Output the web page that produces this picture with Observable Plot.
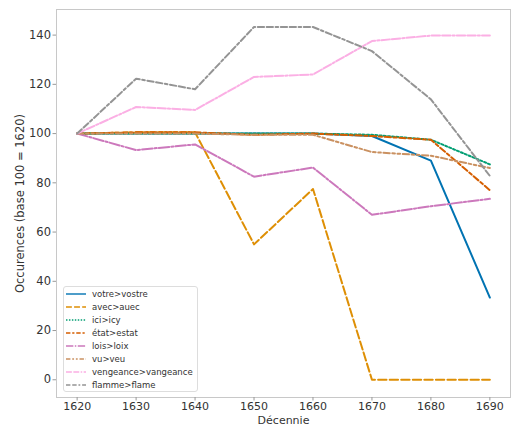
<!DOCTYPE html>
<html><head><meta charset="utf-8">
<script src="https://cdn.jsdelivr.net/npm/d3@7"></script>
<script src="https://cdn.jsdelivr.net/npm/@observablehq/plot@0.6"></script>
<style>
body{margin:0;background:#fff;font-family:"DejaVu Sans",sans-serif}
#wrap{position:relative;width:512px;height:425px}
#legend{position:absolute;left:63px;top:286px;width:135px;height:106px;border:1px solid #ddd;border-radius:3px;background:rgba(255,255,255,0.85);font-size:8.5px;color:#333;box-sizing:border-box;padding-top:1px}
.row{height:12.9px;display:flex;align-items:center}
.row svg{margin-left:2px;margin-right:6px}
</style></head>
<body><div id="wrap"></div>
<script>
const decades = [1620, 1630, 1640, 1650, 1660, 1670, 1680, 1690];
const votre     = [100, 100, 100, 100, 100, 99, 89, 33.4];
const avec      = [100, 100.5, 100.5, 55, 77.5, 0, 0, 0];
const ici       = [100, 100, 100, 100, 100, 99.5, 97.5, 87.5];
const etat      = [100, 100.5, 100.5, 99.5, 100, 99, 97.5, 77];
const lois      = [100, 93.3, 95.6, 82.5, 86.2, 67, 70.5, 73.5];
const vu        = [100, 100, 100, 99.5, 99.5, 92.5, 91, 86];
const vengeance = [100, 110.8, 109.6, 123, 124, 137.6, 139.8, 139.8];
const flamme    = [100, 122.3, 118, 143.3, 143.3, 133.5, 113.9, 82.8];

const names = ["votre>vostre","avec>auec","ici>icy","état>estat","lois>loix","vu>veu","vengeance>vangeance","flamme>flame"];
const series = [votre, avec, ici, etat, lois, vu, vengeance, flamme];
const colors = ["#0173b2","#de8f05","#029e73","#d55e00","#cc78bc","#ca9161","#fbafe4","#949494"];
const dashes = ["none","8.4,3.15","2.1,2.1","6.3,2.6,3.15,2.6","10.5,2.1,2.1,2.1","6.3,2.6,2.6,2.6,2.6,2.6","8.4,2.1,8.4,2.1,2.1,2.1","6.3,2.6,6.3,2.6,2.6,2.6"];
const yTicks = [0, 20, 40, 60, 80, 100, 120, 140];

const marks = [
  Plot.frame({stroke:"#c8c8c8"}),
  Plot.axisX({ticks: decades, tickFormat: d => String(d), tickSize: 3.5, tickPadding: 1, stroke:"#999", fill:"#333", fontSize: 11,
    label: "Décennie", labelAnchor: "center", labelArrow: "none", labelOffset: 26}),
  Plot.axisY({ticks: yTicks, tickSize: 3.5, tickPadding: 2, stroke:"#999", fill:"#333", fontSize: 11.5,
    label: "Occurences (base 100 = 1620)", labelAnchor: "center", labelArrow: "none", labelOffset: 41})
];
series.forEach((vals, i) => {
  const data = decades.map((d, j) => ({decade: d, value: vals[j]}));
  marks.push(Plot.line(data, {x: "decade", y: "value", stroke: colors[i], strokeWidth: 2, strokeDasharray: dashes[i] === "none" ? null : dashes[i]}));
});

const chart = Plot.plot({
  width: 512, height: 425,
  marginLeft: 56, marginRight: 2, marginTop: 9, marginBottom: 28,
  x: {domain: [1616.5, 1693.5]},
  y: {domain: [-7.2, 150.4]},
  style: {fontFamily: "DejaVu Sans, sans-serif", fontSize: "11.5px", color: "#333", background: "#fff"},
  marks
});
const wrap = document.getElementById("wrap");
wrap.appendChild(chart);

const legend = document.createElement("div");
legend.id = "legend";
names.forEach((n, i) => {
  const row = document.createElement("div");
  row.className = "row";
  const dash = dashes[i] === "none" ? "" : `stroke-dasharray="${dashes[i].split(",").map(v => v*0.7).join(",")}"`;
  row.innerHTML = `<svg width="20" height="6"><line x1="0" y1="3" x2="20" y2="3" stroke="${colors[i]}" stroke-width="1.4" ${dash}/></svg><span>${n}</span>`;
  legend.appendChild(row);
});
wrap.appendChild(legend);
</script></body></html>
